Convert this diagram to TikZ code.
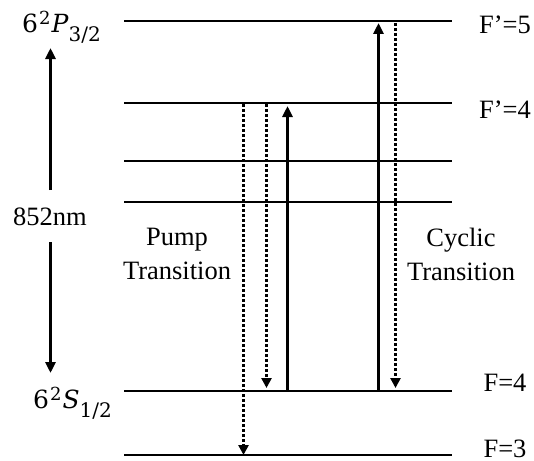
\documentclass[tikz,border=0pt]{standalone}
\usepackage{fontspec}
\setmainfont{Liberation Serif}
\newfontfamily\dvs{DejaVu Serif}
\usetikzlibrary{arrows.meta}
\begin{document}
\begin{tikzpicture}[x=1pt,y=-1pt,
  level/.style={line width=2pt},
  solidarrow/.style={line width=3pt,-{Triangle[length=11pt,width=10pt]}},
  dotarrow/.style={line width=3pt,dash pattern=on 3pt off 2pt,-{Triangle[length=10pt,width=10pt]}},
  lbl/.style={font=\fontsize{26.5}{30}\selectfont,inner sep=0pt},
  stlbl/.style={font=\dvs\fontsize{25}{30}\selectfont,inner sep=0pt,anchor=base west},
  txt/.style={font=\fontsize{26.5}{34}\selectfont,inner sep=0pt,align=center}]
\useasboundingbox (0,0) rectangle (534,460);
% level lines
\foreach \n/\y in {a/21,b/103,c/161,d/202,e/391,f/455}{
  \coordinate (\n L) at (124,\y);
  \coordinate (\n R) at (452,\y);
  \draw[level] (\n L) -- (\n R);
}
% arrow endpoints
\coordinate (p1s) at (243.5,104); \coordinate (p1e) at (243.5,455);
\coordinate (p2s) at (266.5,104); \coordinate (p2e) at (266.5,388);
\coordinate (p3s) at (287.5,390); \coordinate (p3e) at (287.5,106);
\coordinate (c1s) at (378.5,390); \coordinate (c1e) at (378.5,23);
\coordinate (c2s) at (395.5,23);  \coordinate (c2e) at (395.5,388);
\coordinate (u1s) at (50.5,190);  \coordinate (u1e) at (50.5,48);
\coordinate (d1s) at (50.5,242);  \coordinate (d1e) at (50.5,373);
\draw[dotarrow] (p1s) -- (p1e);
\draw[dotarrow] (p2s) -- (p2e);
\draw[solidarrow] (p3s) -- (p3e);
\draw[solidarrow] (c1s) -- (c1e);
\draw[dotarrow] (c2s) -- (c2e);
\draw[solidarrow] (u1s) -- (u1e);
\draw[solidarrow] (d1s) -- (d1e);
% labels
\newcommand\supsc[1]{\kern1pt\raisebox{8pt}{\fontsize{18}{20}\selectfont #1}\kern1pt}
\newcommand\subsc[1]{\raisebox{-9pt}{\fontsize{20}{22}\selectfont #1}}
\node[stlbl] (Pst) at (22,33) {6\supsc{2}\textit{P}\subsc{3/2}};
\node[lbl] (wl) at (50,217) {852nm};
\node[stlbl] (Sst) at (33,408) {6\supsc{2}\textit{S}\subsc{1/2}};
\node[txt] (pump) at (177,254) {Pump\\Transition};
\node[txt] (cyc) at (461,254) {Cyclic\\Transition};
\node[lbl] (f5) at (505,25) {F’=5};
\node[lbl] (f4p) at (505,110) {F’=4};
\node[lbl] (f4) at (505,383) {F=4};
\node[lbl] (f3) at (505,449) {F=3};
\end{tikzpicture}
\end{document}
